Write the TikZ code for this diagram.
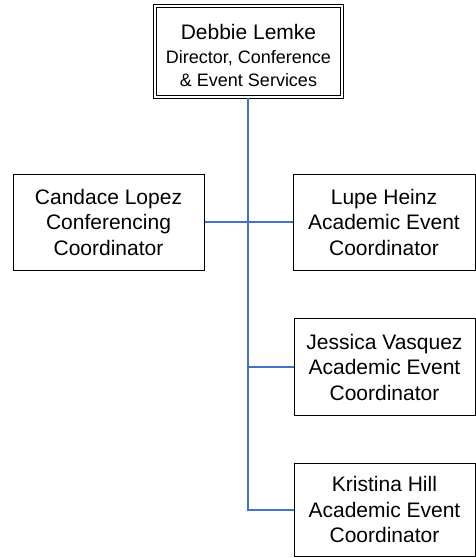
\documentclass[tikz,border=0pt]{standalone}
\usepackage{fontspec}
\setmainfont{Liberation Sans}
\definecolor{linkblue}{HTML}{4472C4}
\begin{document}
\begin{tikzpicture}[x=1pt,y=-1pt,
  box/.style={draw, line width=1pt, rectangle, align=center, inner sep=0pt,
    font=\fontsize{21}{25.5}\selectfont},
  topbox/.style={draw, line width=1pt, double, double distance=2.5pt, rectangle,
    inner sep=0pt},
  toptext/.style={align=center, inner sep=0pt, font=\fontsize{18}{23.5}\selectfont},
  conn/.style={draw=linkblue, line width=1.3pt}]
\useasboundingbox (0,0) rectangle (476,558);
\node[topbox, minimum width=187pt, minimum height=91pt] (top) at (248.5,51.5) {};
\node[toptext] (toplabel) at (248.5,55.5)
  {{\fontsize{21}{23.5}\selectfont Debbie Lemke}\\Director, Conference\\\& Event Services};
\node[box, minimum width=191pt, minimum height=96pt] (candace) at (108.5,222)
  {Candace Lopez\\Conferencing\\Coordinator};
\node[box, minimum width=182pt, minimum height=96pt] (lupe) at (384,222)
  {Lupe Heinz\\Academic Event\\Coordinator};
\node[box, minimum width=181pt, minimum height=97pt] (jessica) at (384.5,367)
  {Jessica Vasquez\\Academic Event\\Coordinator};
\node[box, minimum width=181pt, minimum height=93pt] (kristina) at (384.5,509.5)
  {Kristina Hill\\Academic Event\\Coordinator};
\coordinate (trunk) at (248,510);
\draw[conn] (top.south -| trunk) -- (trunk) -- (kristina.west |- trunk);
\draw[conn] (candace.east) -- (lupe.west);
\draw[conn] (jessica.west -| trunk) -- (jessica.west);
\end{tikzpicture}
\end{document}
